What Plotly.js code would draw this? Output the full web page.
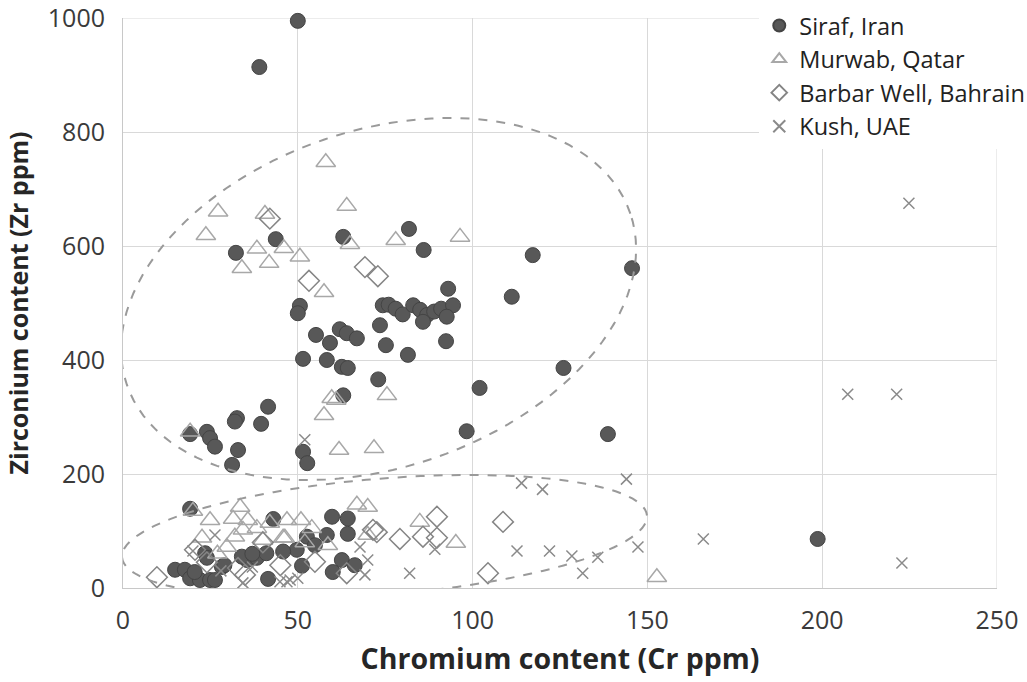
<!DOCTYPE html>
<html>
<head>
<meta charset="utf-8">
<script src="https://cdn.plot.ly/plotly-3.0.1.min.js"></script>
<style>html,body{margin:0;padding:0;background:#fff;}#chart{width:1027px;height:682px;}</style>
</head>
<body>
<div id="chart"></div>
<script>
// ---- Data ----
const sirafX = [50, 39, 43.7, 32.3, 63, 81.8, 86, 117.2, 145.6, 93, 111.2, 50.6, 50, 74.3, 76, 78, 80, 83, 85, 87, 89, 91, 94.4, 92.6, 85.8, 73.5, 55.2, 62, 64, 59.2, 66.9, 75.2, 92.4, 81.5, 51.5, 58.3, 62.6, 64.3, 73, 63, 102, 126, 98.3, 138.7, 51.5, 52.7, 41.5, 32.6, 32, 39.5, 19.2, 24, 24.9, 26.3, 32.9, 31.2,
  198.7, 19.2, 43, 59.8, 64.3, 64.3, 58.3, 52.6, 54.9, 49.7, 45.8, 51.2, 62.6, 66.3, 60, 23.5, 24, 14.9, 17.7, 19.2, 22, 24.9, 26.3, 28.3, 35.5, 38.3, 41, 41.5, 20.5, 29, 34, 37];
const sirafY = [995, 914, 612, 588, 616, 630, 593, 584, 561, 525, 511, 495, 482, 496, 497, 490, 480, 496, 488, 479, 485, 490, 496, 476, 467, 461, 444, 454, 447, 430, 438, 426, 433, 409, 402, 400, 388, 386, 366, 338, 351, 386, 275, 270, 239, 219, 318, 298, 292, 288, 270, 274, 263, 248, 242, 216,
  86, 139, 121, 125, 122, 95, 93, 90, 75, 67, 64, 39, 49, 40, 28, 61, 53, 32, 32, 17, 14, 14, 14, 37, 49, 53, 61, 16, 28, 40, 55, 60];

const murwabX = [58, 27.2, 23.7, 40.6, 64, 38.3, 46, 34, 41.8, 50.6, 64.9, 78, 96.4, 57.5, 59.7, 61, 57.5, 75.5, 61.8, 71.8, 19.2,
  33.5, 24.9, 31.5, 35.7, 20, 22.6, 29.7, 34.3, 38.3, 40, 42, 45.8, 46.9, 50.9, 54, 46.3, 58.6, 66.9, 70, 70, 84.9, 95.2, 152.7, 27, 32, 52];
const murwabY = [747, 660, 619, 656, 670, 595, 596, 561, 570, 581, 603, 610, 616, 519, 333, 330, 303, 338, 242, 245, 274,
  142, 119, 121, 119, 135, 88, 72, 102, 105, 84, 114, 88, 119, 119, 105, 88, 75, 146, 142, 93, 116, 79, 19, 60, 90, 80];

const barbarX = [42, 53.2, 69.2, 72.9, 9.7, 20.6, 32.9, 34.9, 54.9, 64, 72.6, 71.5, 79.2, 85.8, 89.8, 89.8, 104.4, 108.7, 24, 45, 40];
const barbarY = [648, 539, 563, 547, 19, 67, 35, 23, 46, 26, 98, 102, 86, 90, 125, 88, 26, 116, 45, 40, 80];

const kushX = [224.8, 207.3, 221.3, 222.8, 52, 114, 120, 144, 112.7, 122, 128.4, 135.8, 131.5, 147.3, 166, 67.8, 70, 69.2, 82, 89.2, 50, 46.9, 26.3, 34.3, 44.9, 47.8, 37, 20, 28];
const kushY = [675, 340, 340, 44, 260, 184, 173, 191, 65, 65, 56, 54, 26, 72, 86, 72, 49, 23, 26, 68, 17, 11, 93, 9, 11, 14, 37, 65, 30];

const seriesNames = ['Siraf, Iran', 'Murwab, Qatar', 'Barbar Well, Bahrain', 'Kush, UAE'];
const xTicks = [0, 50, 100, 150, 200, 250];
const yTicks = [0, 200, 400, 600, 800, 1000];

// ---- Layout geometry ----
const W = 1027, H = 682;
const M = {l: 123, r: 30, t: 18, b: 94, autoexpand: false};
const plotW = W - M.l - M.r, plotH = H - M.t - M.b;
const xMax = 250, yMax = 1000;
const sx = plotW / xMax, sy = plotH / yMax;

// grouping ellipses: centre in data units, semi-axes in px, tilt in degrees
function ellipsePath(cx, cy, aPx, bPx, angDeg) {
  const phi = angDeg * Math.PI / 180;
  let d = '';
  const n = 120;
  for (let i = 0; i <= n; i++) {
    const t = 2 * Math.PI * i / n;
    const dx = aPx * Math.cos(t) * Math.cos(phi) - bPx * Math.sin(t) * Math.sin(phi);
    const dy = aPx * Math.cos(t) * Math.sin(phi) + bPx * Math.sin(t) * Math.cos(phi);
    const x = cx + dx / sx, y = cy + dy / sy;
    d += (i === 0 ? 'M ' : ' L ') + x.toFixed(3) + ',' + y.toFixed(3);
  }
  return d + ' Z';
}

const FONT = '"Open Sans", "Liberation Sans", sans-serif';
const GRID = '#d9d9d9';

const traces = [
  {x: sirafX, y: sirafY, name: seriesNames[0], type: 'scatter', mode: 'markers', cliponaxis: false,
   marker: {symbol: 'circle', size: 15, color: '#585858', line: {color: '#444', width: 1}}},
  {x: murwabX, y: murwabY, name: seriesNames[1], type: 'scatter', mode: 'markers', cliponaxis: false,
   marker: {symbol: 'triangle-up-open', size: 17, color: '#a8a8a8', line: {width: 1.5}}},
  {x: barbarX, y: barbarY, name: seriesNames[2], type: 'scatter', mode: 'markers', cliponaxis: false,
   marker: {symbol: 'diamond-open', size: 16, color: '#858585', line: {width: 1.5}}},
  {x: kushX, y: kushY, name: seriesNames[3], type: 'scatter', mode: 'markers', cliponaxis: false,
   marker: {symbol: 'x-thin-open', size: 11, color: '#8a8a8a', line: {width: 1.5}}}
];

const layout = {
  width: W, height: H,
  margin: M,
  paper_bgcolor: '#fff', plot_bgcolor: '#fff',
  font: {family: FONT, color: '#404040', size: 22},
  showlegend: true,
  legend: {x: 0.728, y: 1.025, xanchor: 'left', yanchor: 'top', bgcolor: '#fff',
           font: {family: FONT, size: 23.5, color: '#222'}, itemsizing: 'constant', tracegroupgap: 0},
  xaxis: {range: [0, xMax], tickvals: xTicks, ticktext: xTicks.map(String), showgrid: true, gridcolor: GRID, gridwidth: 1,
          zeroline: false, showline: true, mirror: false, linecolor: '#c8c8c8', linewidth: 1, ticks: '', ticklabelstandoff: 10,
          ticklabeloverflow: 'allow',
          tickfont: {size: 25, color: '#3a3a3a'},
          title: {text: '<b>Chromium content (Cr ppm)</b>', font: {size: 28.5, color: '#262626'}, standoff: 14}},
  yaxis: {range: [0, yMax], tickvals: yTicks, ticktext: yTicks.map(String), showgrid: true, gridcolor: GRID, gridwidth: 1,
          zeroline: false, showline: true, linecolor: '#c8c8c8', linewidth: 1, ticks: '', ticklabelstandoff: 12,
          ticklabeloverflow: 'allow',
          tickfont: {size: 25, color: '#3a3a3a'},
          title: {text: '<b>Zirconium content (Zr ppm)</b>', font: {size: 25, color: '#262626'}, standoff: 12}},
  shapes: [
    // edge gridlines (top at y max, right at x max) that Plotly drops at the range ends
    {type: 'line', xref: 'paper', yref: 'y', x0: 0, x1: 1, y0: yMax, y1: yMax, line: {color: GRID, width: 1}, layer: 'below'},
    {type: 'line', xref: 'x', yref: 'paper', x0: xMax, x1: xMax, y0: 0, y1: 1, line: {color: GRID, width: 1}, layer: 'below'},
    {type: 'path', xref: 'x', yref: 'y', path: ellipsePath(73.1, 507, 265.9, 168.5, 18.75),
     line: {color: '#9a9a9a', width: 2, dash: 'dash'}, layer: 'above'},
    {type: 'path', xref: 'x', yref: 'y', path: ellipsePath(74.8, 90.4, 263.3, 58.0, 4.56),
     line: {color: '#9a9a9a', width: 2, dash: 'dash'}, layer: 'above'}
  ]
};

Plotly.newPlot('chart', traces, layout, {staticPlot: true, displayModeBar: false});
</script>
</body>
</html>
